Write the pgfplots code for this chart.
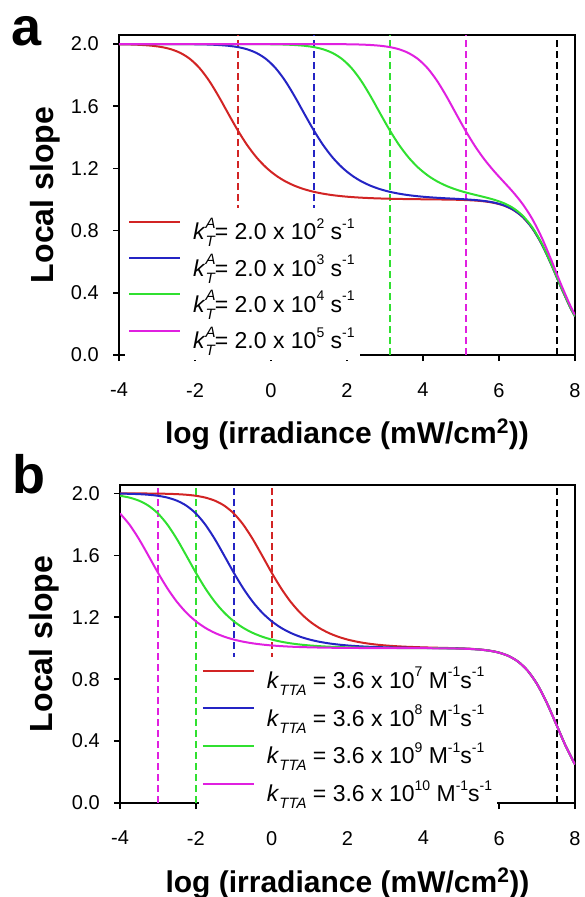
\documentclass[border=0pt]{standalone}
\usepackage{fontspec}
\setmainfont{Liberation Sans}
\usepackage{pgfplots}
\usepackage{pgfplotstable}
\pgfplotsset{compat=1.18}
\definecolor{cR}{RGB}{210,36,36}
\definecolor{cB}{RGB}{36,36,196}
\definecolor{cG}{RGB}{48,224,48}
\definecolor{cM}{RGB}{224,32,224}
\newcommand{\sub}[1]{\raisebox{-0.3em}{\fontsize{15}{15}\selectfont\itshape #1}}
\newcommand{\sups}[1]{\raisebox{0.5em}{\fontsize{14}{14}\selectfont #1}}
\newcommand{\kTA}{\textit{k}\rlap{\raisebox{0.5em}{\fontsize{15}{15}\selectfont\itshape A}}\sub{T}}
\newcommand{\kTTA}{\textit{k}\sub{TTA}}

\pgfplotstableread{
x r b g m
-4 1.9985 2.0000 2.0000 2.0000
-3.88 1.9980 2.0000 2.0000 2.0000
-3.63 1.9965 2.0000 2.0000 2.0000
-3.38 1.9937 1.9999 2.0000 2.0000
-3.13 1.9889 1.9999 2.0000 2.0000
-2.88 1.9806 1.9998 2.0000 2.0000
-2.63 1.9662 1.9996 2.0000 2.0000
-2.38 1.9422 1.9994 2.0000 2.0000
-2.13 1.9035 1.9989 2.0000 2.0000
-1.88 1.8452 1.9980 2.0000 2.0000
-1.63 1.7644 1.9965 2.0000 2.0000
-1.38 1.6645 1.9937 1.9999 2.0000
-1.13 1.5548 1.9889 1.9999 2.0000
-0.88 1.4472 1.9806 1.9998 2.0000
-0.63 1.3511 1.9662 1.9996 2.0000
-0.38 1.2707 1.9422 1.9994 2.0000
-0.13 1.2063 1.9035 1.9989 2.0000
0.12 1.1562 1.8452 1.9980 2.0000
0.37 1.1177 1.7644 1.9965 2.0000
0.62 1.0886 1.6645 1.9937 1.9999
0.87 1.0665 1.5548 1.9889 1.9999
1.12 1.0499 1.4472 1.9806 1.9998
1.37 1.0375 1.3511 1.9662 1.9996
1.62 1.0281 1.2707 1.9422 1.9994
1.87 1.0211 1.2063 1.9035 1.9989
2.12 1.0158 1.1562 1.8452 1.9980
2.37 1.0119 1.1177 1.7644 1.9965
2.62 1.0089 1.0886 1.6645 1.9937
2.87 1.0067 1.0665 1.5548 1.9889
3.12 1.0050 1.0499 1.4472 1.9806
3.37 1.0037 1.0375 1.3511 1.9662
3.62 1.0027 1.0280 1.2705 1.9419
3.87 1.0019 1.0209 1.2060 1.9031
4.12 1.0012 1.0154 1.1557 1.8445
4.37 1.0005 1.0112 1.1169 1.7633
4.62 0.9996 1.0076 1.0872 1.6626
4.87 0.9985 1.0045 1.0641 1.5517
5.12 0.9965 1.0010 1.0457 1.4422
5.37 0.9934 0.9967 1.0302 1.3427
5.62 0.9879 0.9903 1.0153 1.2564
5.87 0.9783 0.9802 0.9987 1.1820
6.12 0.9619 0.9632 0.9772 1.1148
6.37 0.9340 0.9350 0.9454 1.0476
6.62 0.8883 0.8890 0.8965 0.9716
6.87 0.8172 0.8176 0.8231 0.8772
7.12 0.7153 0.7156 0.7195 0.7575
7.37 0.5856 0.5857 0.5884 0.6142
7.62 0.4427 0.4428 0.4446 0.4614
7.87 0.3088 0.3089 0.3099 0.3205
8 0.2488 0.2489 0.2497 0.2578
}\dataA

\pgfplotstableread{
x r b g m
-4 1.9998 1.9984 1.9844 1.8704
-3.75 1.9997 1.9972 1.9727 1.7983
-3.5 1.9995 1.9950 1.9529 1.7050
-3.25 1.9991 1.9911 1.9206 1.5977
-3 1.9984 1.9844 1.8704 1.4880
-2.75 1.9972 1.9727 1.7983 1.3866
-2.5 1.9950 1.9529 1.7050 1.2999
-2.25 1.9911 1.9206 1.5977 1.2294
-2 1.9844 1.8704 1.4880 1.1741
-1.75 1.9727 1.7983 1.3866 1.1314
-1.5 1.9529 1.7050 1.2999 1.0989
-1.25 1.9206 1.5977 1.2294 1.0743
-1 1.8704 1.4880 1.1741 1.0558
-0.75 1.7983 1.3866 1.1314 1.0419
-0.5 1.7050 1.2999 1.0989 1.0314
-0.25 1.5977 1.2294 1.0743 1.0236
0 1.4880 1.1741 1.0558 1.0177
0.25 1.3866 1.1314 1.0419 1.0133
0.5 1.2999 1.0989 1.0314 1.0099
0.75 1.2294 1.0743 1.0236 1.0075
1 1.1741 1.0558 1.0177 1.0056
1.25 1.1314 1.0419 1.0133 1.0042
1.5 1.0989 1.0314 1.0099 1.0031
1.75 1.0743 1.0236 1.0075 1.0024
2 1.0558 1.0177 1.0056 1.0018
2.25 1.0419 1.0133 1.0042 1.0013
2.5 1.0314 1.0099 1.0031 1.0010
2.75 1.0236 1.0075 1.0024 1.0008
3 1.0177 1.0056 1.0018 1.0006
3.25 1.0133 1.0042 1.0013 1.0004
3.5 1.0099 1.0031 1.0010 1.0003
3.75 1.0075 1.0024 1.0008 1.0003
4 1.0053 1.0015 1.0003 0.9999
4.25 1.0037 1.0008 0.9999 0.9996
4.5 1.0021 1.0000 0.9994 0.9992
4.75 1.0007 0.9991 0.9985 0.9984
5 0.9988 0.9976 0.9972 0.9971
5.25 0.9960 0.9951 0.9948 0.9947
5.5 0.9915 0.9908 0.9907 0.9906
5.75 0.9840 0.9836 0.9835 0.9834
6 0.9713 0.9710 0.9708 0.9707
6.25 0.9494 0.9493 0.9491 0.9491
6.5 0.9131 0.9131 0.9129 0.9129
6.75 0.8550 0.8550 0.8549 0.8549
7 0.7682 0.7681 0.7681 0.7681
7.25 0.6507 0.6507 0.6506 0.6506
7.5 0.5116 0.5115 0.5115 0.5115
7.75 0.3707 0.3706 0.3706 0.3706
8 0.2488 0.2488 0.2488 0.2488
}\dataB

\pgfplotsset{
  mystyle/.style={
    scale only axis,
    xmin=-4, xmax=8, ymin=0,
    xtick={-4,-2,0,2,4,6,8},
    ytick={0,0.4,0.8,1.2,1.6,2.0},
    tick align=outside, tick pos=left,
    major tick length=6pt,
    axis line style={line width=1.8pt},
    every tick/.style={line width=1.5pt, black},
    ticklabel style={font=\fontsize{20}{20}\selectfont, inner sep=0pt},
    /pgf/number format/assume math mode=true,
    yticklabel style={/pgf/number format/fixed, /pgf/number format/fixed zerofill, /pgf/number format/precision=1, xshift=-14pt},
    xticklabel style={yshift=-22pt},
    xlabel={log (irradiance (mW/cm\textsuperscript{2}))},
    ylabel={Local slope},
    xlabel style={anchor=base, font=\fontsize{30}{30}\selectfont\bfseries},
    ylabel style={anchor=base, font=\fontsize{32}{32}\selectfont\bfseries},
    legend cell align=left,
    legend style={draw=none, fill=white, inner xsep=3pt, inner ysep=8pt,
      font=\fontsize{23}{23}\selectfont, anchor=north west,
      column sep=10pt},
    legend image code/.code={\draw[##1, line width=2pt] (0pt,8pt) -- (51pt,8pt);},
  }
}

\begin{document}
\begin{tikzpicture}
\path[use as bounding box] (0,0) rectangle (584pt,-897pt);

\begin{axis}[mystyle, at={(119pt,-355pt)}, anchor=south west,
  width=456pt, height=320pt, ymax=2.058,
  xlabel style={at={(axis description cs:0.5,-0.275)}},
  ylabel style={at={(axis description cs:-0.1447,0.5)}},
  legend style={at={(0.0132,0.46)}, row sep=9pt}]
\addplot[forget plot, color=cR, line width=2.1pt, dash pattern=on 7pt off 4pt] coordinates {(-0.88,0) (-0.88,2.058)};
\addplot[forget plot, color=cB, line width=2.1pt, dash pattern=on 7pt off 4pt] coordinates {(1.12,0) (1.12,2.058)};
\addplot[forget plot, color=cG, line width=2.1pt, dash pattern=on 7pt off 4pt] coordinates {(3.12,0) (3.12,2.058)};
\addplot[forget plot, color=cM, line width=2.1pt, dash pattern=on 7pt off 4pt] coordinates {(5.12,0) (5.12,2.058)};
\addplot[forget plot, color=black, line width=2.1pt, dash pattern=on 7pt off 4pt] coordinates {(7.52,0) (7.52,2.058)};
\addplot[color=cR, line width=2pt, smooth] table[x=x, y=r] {\dataA};
\addplot[color=cB, line width=2pt, smooth] table[x=x, y=b] {\dataA};
\addplot[color=cG, line width=2pt, smooth] table[x=x, y=g] {\dataA};
\addplot[color=cM, line width=2pt, smooth] table[x=x, y=m] {\dataA};
\legend{\kTA= 2.0 x 10\sups{2} s\sups{-1},
        \kTA= 2.0 x 10\sups{3} s\sups{-1},
        \kTA= 2.0 x 10\sups{4} s\sups{-1},
        \kTA= 2.0 x 10\sups{5} s\sups{-1}}
\end{axis}

\begin{axis}[mystyle, at={(120pt,-803pt)}, anchor=south west,
  width=455pt, height=318pt, ymax=2.054,
  xlabel style={at={(axis description cs:0.5,-0.2799)}},
  ylabel style={at={(axis description cs:-0.1473,0.5)}},
  legend style={at={(0.173,0.459)}, row sep=11pt}]
\addplot[forget plot, color=cR, line width=2.1pt, dash pattern=on 7pt off 4pt] coordinates {(0,0) (0,2.054)};
\addplot[forget plot, color=cB, line width=2.1pt, dash pattern=on 7pt off 4pt] coordinates {(-1,0) (-1,2.054)};
\addplot[forget plot, color=cG, line width=2.1pt, dash pattern=on 7pt off 4pt] coordinates {(-2,0) (-2,2.054)};
\addplot[forget plot, color=cM, line width=2.1pt, dash pattern=on 7pt off 4pt] coordinates {(-3,0) (-3,2.054)};
\addplot[forget plot, color=black, line width=2.1pt, dash pattern=on 7pt off 4pt] coordinates {(7.52,0) (7.52,2.054)};
\addplot[color=cR, line width=2pt, smooth] table[x=x, y=r] {\dataB};
\addplot[color=cB, line width=2pt, smooth] table[x=x, y=b] {\dataB};
\addplot[color=cG, line width=2pt, smooth] table[x=x, y=g] {\dataB};
\addplot[color=cM, line width=2pt, smooth] table[x=x, y=m] {\dataB};
\legend{\kTTA{} = 3.6 x 10\sups{7} M\sups{-1}s\sups{-1},
        \kTTA{} = 3.6 x 10\sups{8} M\sups{-1}s\sups{-1},
        \kTTA{} = 3.6 x 10\sups{9} M\sups{-1}s\sups{-1},
        \kTTA{} = 3.6 x 10\sups{10} M\sups{-1}s\sups{-1}}
\end{axis}

\node[anchor=base west, inner sep=0pt, font=\fontsize{54}{54}\selectfont\bfseries] at (11pt,-45pt) {a};
\node[anchor=base west, inner sep=0pt, font=\fontsize{54}{54}\selectfont\bfseries] at (12pt,-493pt) {b};
\end{tikzpicture}
\end{document}
